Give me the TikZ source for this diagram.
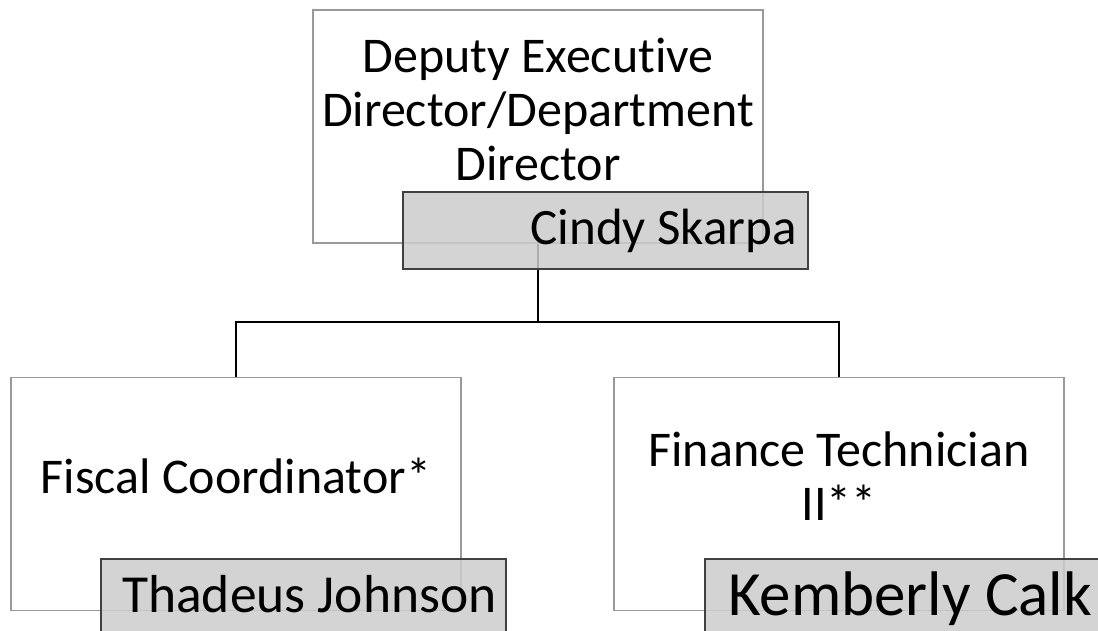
\documentclass[tikz,border=0pt]{standalone}
\usepackage{fontspec}
\setmainfont{Carlito}[Ligatures=CommonOff]
\usepackage{tikz}

\begin{document}
\begin{tikzpicture}[x=1pt,y=-1pt,
    rolebox/.style={draw=black!40, line width=1.2pt, fill=white, minimum width=450pt, minimum height=233pt, inner sep=0pt},
    namebox/.style={draw=black!75, line width=1.3pt, fill=black!20, fill opacity=0.85, minimum width=405pt, minimum height=77pt, inner sep=0pt},
    title/.style={align=center, font=\fontsize{50}{54}\selectfont},
    link/.style={draw=black, line width=2.4pt}]
        \useasboundingbox (0,0) rectangle (1098,631);
        \clip (0,0) rectangle (1098,631);

        \node [rolebox] (dir) at (538,126.5) {};
        \node [rolebox] (fisc) at (236,494) {};
        \node [rolebox] (fin) at (839,494) {};

        \node [title] (dirtitle) at (538,109) {Deputy Executive\\Director/Department\\Director};
        \node [title, anchor=base] (fisctitle) at (236,493) {Fiscal Coordinator*};
        \node [title] (fintitle) at (839,476) {Finance Technician\\II**};

        \coordinate (bus) at (538,322);
        \draw [link] (dir.south) -- (bus);
        \draw [link] (fisc.north) |- (bus) -| (fin.north);

        \node [namebox] (cindy) at (605.5,230.5) {};
        \node [namebox] (thad) at (303.5,597.5) {};
        \node [namebox] (kem) at (907.5,597.5) {};

        \node [anchor=base east, inner xsep=0pt, font=\fontsize{51}{60}\selectfont] (cindyname) at (797,245) {Cindy Skarpa};
        \node [anchor=base west, inner xsep=0pt, font=\fontsize{53.5}{62}\selectfont] (thadname) at (122,612) {Thadeus Johnson};
        \node [anchor=base west, inner xsep=0pt, font=\fontsize{63}{72}\selectfont] (kemname) at (728,615) {Kemberly Calk};
    \end{tikzpicture}
\end{document}
